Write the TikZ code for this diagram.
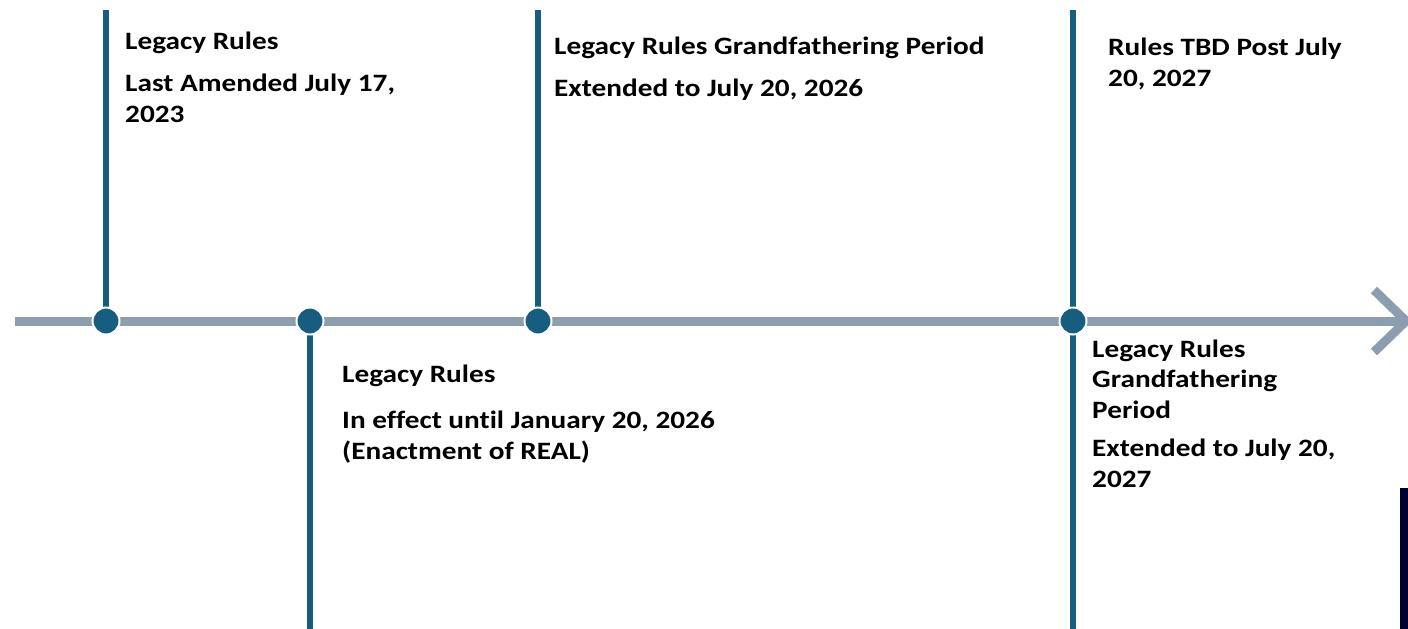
\documentclass[tikz,border=0pt]{standalone}
\usepackage{fontspec}
\setmainfont{Carlito}[FakeStretch=1.17, Ligatures=NoCommon]
\usepackage{tikz}
\usetikzlibrary{positioning}
\usetikzlibrary{calc}

\definecolor{TimeGrey}{HTML}{8A9EAF}
\definecolor{StemBlue}{HTML}{175D80}
\definecolor{EdgeNavy}{HTML}{000030}

\tikzset{
	timeline/.style = {line width=9pt, TimeGrey},
	stem/.style     = {line width=6pt, StemBlue},
	milestone/.style = {circle, fill=StemBlue, draw=white, line width=2pt,
	                    minimum size=27pt, inner sep=0pt},
	label/.style    = {anchor=base west, inner sep=0pt, align=left,
	                   font=\fontsize{25}{30.5}\selectfont\bfseries},
}

\begin{document}
\begin{tikzpicture}[x=1pt, y=-1pt]
	
	% ------------------------------------------------
	% Ensure the dimensions of graphic are appropriate
	\useasboundingbox (0,0) rectangle (1408,629);
	
	% ------------------------------------------------
	% Relevant coordinates
	\coordinate (Beg) at (15,321);
	\coordinate (Tip) at (1406,321);
	
	\path (Tip) +(-32,-31) coordinate (HeadU);
	\path (Tip) +(-32, 31) coordinate (HeadD);
	
	\coordinate (TopA) at (106,10);
	\coordinate (BotB) at (310,629);
	\coordinate (TopC) at (538,10);
	\coordinate (TopD) at (1073,10);
	\coordinate (BotD) at (1073,629);
	
	% ----------------
	% Time line
	\draw[timeline] (Beg) -- (Tip);
	\draw[timeline, line join=miter] (HeadU) -- (Tip) -- (HeadD);
	
	% ----------------
	% Stems
	\draw[stem] (TopA) -- (106,321);
	\draw[stem] (310,321) -- (BotB);
	\draw[stem] (TopC) -- (538,321);
	\draw[stem] (TopD) -- (BotD);
	
	% ----------------
	% Dotted milestones
	\node[milestone] (DotA) at (106,321) {};
	\node[milestone] (DotB) at (310,321) {};
	\node[milestone] (DotC) at (538,321) {};
	\node[milestone] (DotD) at (1073,321) {};
	
	% ----------------
	% Texts (base = baseline of the last line)
	\node[label] (TitleA) at (125,49)  {Legacy Rules};
	\node[label] (NoteA)  at (125,122) {Last Amended July 17,\\2023};
	
	\node[label] (TitleB) at (342,382) {Legacy Rules};
	\node[label] (NoteB)  at (342,459) {In effect until January 20, 2026\\(Enactment of REAL)};
	
	\node[label] (TitleC) at (554,54) {Legacy Rules Grandfathering Period};
	\node[label] (NoteC)  at (554,96) {Extended to July 20, 2026};
	
	\node[label] (TitleD) at (1108,86) {Rules TBD Post July\\20, 2027};
	
	\node[label] (TitleE) at (1092,418) {Legacy Rules\\Grandfathering\\Period};
	\node[label] (NoteE)  at (1092,487) {Extended to July 20,\\2027};
	
	% ----------------
	% Edge bar
	\fill[EdgeNavy] (1400,488) rectangle (1408,629);
	
\end{tikzpicture}
\end{document}
